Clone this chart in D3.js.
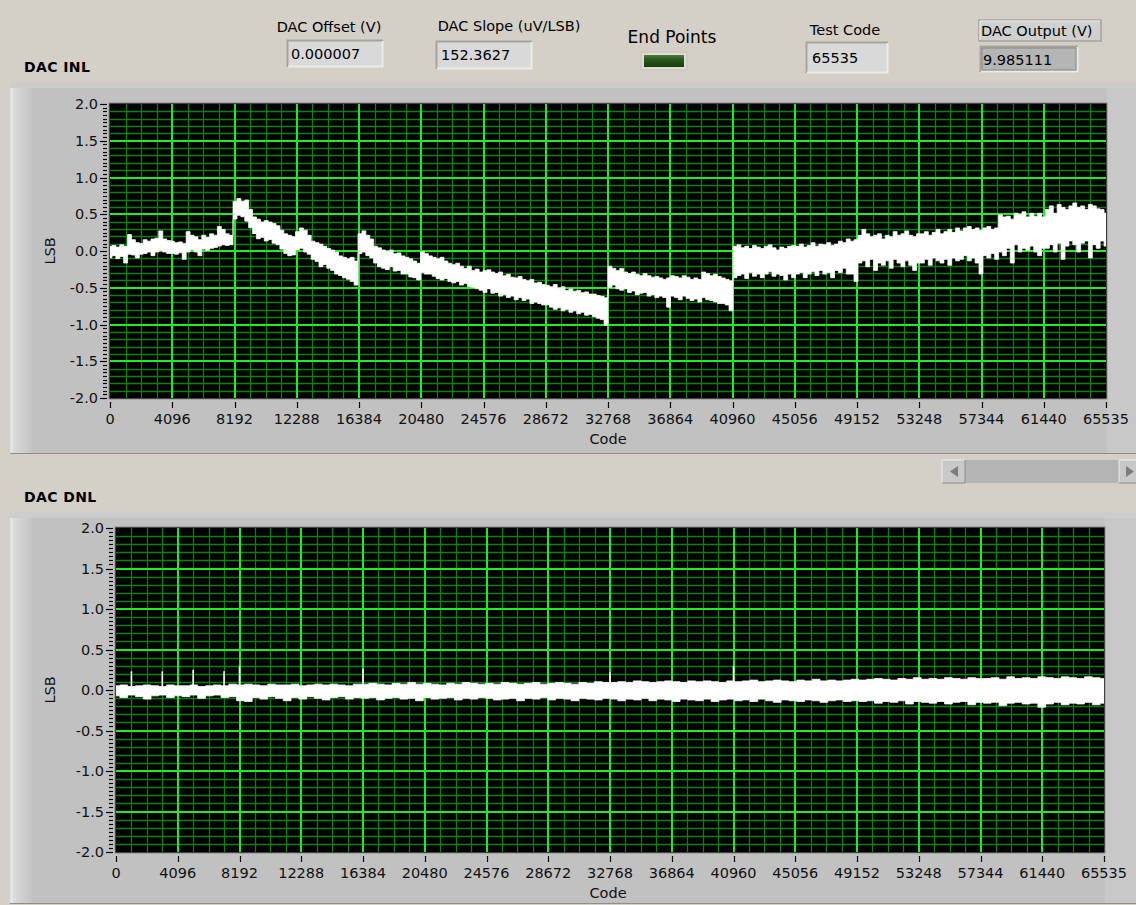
<!DOCTYPE html>
<html><head><meta charset="utf-8">
<script src="https://cdn.jsdelivr.net/npm/d3@7"></script>
<style>html,body{margin:0;padding:0;background:#d4d0c8;overflow:hidden}svg{display:block;font-family:"DejaVu Sans",sans-serif}</style>
</head><body><svg id="c" width="1136" height="905"></svg>
<script>
// ---------- data ----------
const codeTicks = [0,4096,8192,12288,16384,20480,24576,28672,32768,36864,40960,45056,49152,53248,57344,61440,65535];
const lsbTicks = [-2.0,-1.5,-1.0,-0.5,0.0,0.5,1.0,1.5,2.0];
const headerLabels = ["DAC Offset (V)","DAC Slope (uV/LSB)","Test Code","DAC Output (V)"];
const headerValues = ["0.000007","152.3627","65535","9.985111"];

// INL envelope, 256 bins over the code range (upper / lower edge of the noisy trace, LSB)
const inlHi = [
 0.05,0.06,0.04,0.07,0.05,0.21,0.14,0.10,0.09,0.14,0.12,0.15,0.16,0.26,0.15,0.13,
 0.12,0.10,0.11,0.09,0.25,0.20,0.18,0.14,0.20,0.17,0.22,0.20,0.32,0.28,0.22,0.20,
 0.66,0.70,0.66,0.68,0.55,0.45,0.42,0.38,0.40,0.38,0.36,0.33,0.27,0.22,0.20,0.18,
 0.25,0.30,0.27,0.20,0.12,0.10,0.08,0.05,0.02,0.00,-0.03,-0.08,-0.10,-0.12,-0.10,-0.15,
 0.22,0.26,0.20,0.15,0.05,0.03,0.00,-0.02,0.00,-0.05,-0.04,-0.08,-0.10,-0.12,-0.15,-0.18,
 -0.02,-0.05,-0.08,-0.10,-0.12,-0.10,-0.15,-0.18,-0.20,-0.18,-0.22,-0.25,-0.22,-0.28,-0.26,-0.30,
 -0.28,-0.27,-0.30,-0.32,-0.30,-0.35,-0.33,-0.37,-0.38,-0.36,-0.40,-0.42,-0.40,-0.45,-0.44,-0.47,
 -0.48,-0.50,-0.47,-0.52,-0.50,-0.55,-0.53,-0.56,-0.55,-0.58,-0.57,-0.60,-0.60,-0.62,-0.63,-0.65,
 -0.22,-0.25,-0.28,-0.25,-0.30,-0.32,-0.30,-0.33,-0.35,-0.32,-0.35,-0.37,-0.36,-0.38,-0.40,-0.38,
 -0.35,-0.36,-0.38,-0.35,-0.37,-0.40,-0.38,-0.40,-0.30,-0.32,-0.35,-0.33,-0.36,-0.38,-0.40,-0.42,
 0.05,0.07,0.03,0.05,0.02,0.06,0.04,0.02,0.05,0.07,0.03,0.00,0.04,0.02,0.05,0.06,
 0.05,0.08,0.04,0.06,0.10,0.05,0.08,0.07,0.10,0.06,0.08,0.12,0.10,0.15,0.12,0.14,
 0.20,0.28,0.22,0.18,0.20,0.22,0.15,0.20,0.18,0.25,0.20,0.22,0.26,0.20,0.18,0.22,
 0.22,0.25,0.20,0.24,0.28,0.22,0.25,0.28,0.24,0.30,0.26,0.30,0.32,0.28,0.30,0.27,
 0.30,0.32,0.28,0.30,0.48,0.45,0.46,0.42,0.50,0.48,0.52,0.45,0.50,0.46,0.50,0.45,
 0.55,0.60,0.50,0.62,0.58,0.55,0.60,0.64,0.58,0.60,0.55,0.62,0.60,0.56,0.55,0.50];
const inlLo = [
 -0.08,-0.05,-0.09,-0.06,-0.15,-0.03,-0.04,-0.08,-0.03,-0.02,0.00,-0.05,0.00,0.02,0.00,-0.02,
 -0.02,-0.03,-0.01,-0.10,0.00,0.03,0.00,-0.05,0.04,0.02,0.05,0.06,0.08,0.10,0.09,0.10,
 0.45,0.50,0.48,0.42,0.33,0.25,0.18,0.20,0.15,0.17,0.12,0.10,0.04,-0.02,-0.05,-0.04,
 0.03,0.05,0.00,-0.03,-0.10,-0.13,-0.20,-0.17,-0.22,-0.25,-0.30,-0.32,-0.35,-0.37,-0.40,-0.45,
 -0.02,0.00,-0.05,-0.08,-0.15,-0.20,-0.22,-0.24,-0.20,-0.26,-0.25,-0.30,-0.30,-0.34,-0.35,-0.38,
 -0.28,-0.30,-0.30,-0.33,-0.36,-0.38,-0.36,-0.40,-0.42,-0.40,-0.45,-0.43,-0.47,-0.48,-0.50,-0.52,
 -0.55,-0.50,-0.56,-0.55,-0.60,-0.58,-0.62,-0.60,-0.65,-0.62,-0.66,-0.64,-0.70,-0.68,-0.70,-0.72,
 -0.72,-0.75,-0.78,-0.76,-0.80,-0.78,-0.82,-0.80,-0.84,-0.82,-0.86,-0.85,-0.88,-0.90,-0.92,-1.00,
 -0.48,-0.45,-0.50,-0.52,-0.50,-0.55,-0.53,-0.58,-0.56,-0.55,-0.60,-0.58,-0.62,-0.60,-0.62,-0.75,
 -0.60,-0.62,-0.65,-0.60,-0.63,-0.66,-0.64,-0.68,-0.62,-0.65,-0.66,-0.68,-0.70,-0.70,-0.72,-0.80,
 -0.35,-0.32,-0.30,-0.36,-0.28,-0.33,-0.30,-0.35,-0.30,-0.27,-0.33,-0.30,-0.32,-0.38,-0.30,-0.35,
 -0.30,-0.28,-0.35,-0.30,-0.27,-0.32,-0.25,-0.30,-0.28,-0.35,-0.25,-0.28,-0.22,-0.30,-0.30,-0.40,
 -0.15,-0.12,-0.20,-0.10,-0.25,-0.15,-0.18,-0.12,-0.22,-0.10,-0.15,-0.20,-0.12,-0.18,-0.25,-0.15,
 -0.15,-0.10,-0.18,-0.08,-0.12,-0.15,-0.10,-0.18,-0.08,-0.12,-0.10,-0.05,-0.12,-0.08,-0.15,-0.30,
 -0.05,-0.08,-0.02,-0.10,0.00,-0.05,0.05,-0.15,0.10,0.00,0.05,0.02,0.08,0.00,-0.05,0.05,
 0.05,0.10,0.00,0.12,-0.10,0.08,0.15,0.10,0.00,0.12,0.15,-0.08,0.10,0.05,0.15,0.08];

// DNL envelope, 128 bins
const dnlHi = [
 0.04,0.05,0.03,0.04,0.05,0.04,0.03,0.05,0.04,0.04,0.05,0.03,0.04,0.05,0.04,0.06,
 0.05,0.06,0.05,0.04,0.06,0.05,0.05,0.06,0.04,0.05,0.06,0.05,0.06,0.05,0.04,0.06,
 0.06,0.07,0.06,0.05,0.07,0.06,0.08,0.06,0.07,0.06,0.05,0.07,0.06,0.08,0.07,0.06,
 0.07,0.06,0.08,0.07,0.06,0.07,0.08,0.06,0.07,0.08,0.07,0.06,0.08,0.07,0.09,0.08,
 0.08,0.09,0.08,0.10,0.09,0.08,0.09,0.10,0.09,0.08,0.10,0.09,0.10,0.09,0.08,0.10,
 0.09,0.10,0.11,0.09,0.10,0.11,0.10,0.09,0.11,0.10,0.12,0.10,0.11,0.10,0.11,0.12,
 0.11,0.12,0.13,0.12,0.11,0.13,0.12,0.14,0.12,0.13,0.12,0.14,0.13,0.12,0.14,0.13,
 0.13,0.14,0.12,0.15,0.13,0.14,0.13,0.15,0.14,0.13,0.15,0.14,0.13,0.15,0.14,0.13];
const dnlLo = [
 -0.06,-0.08,-0.05,-0.07,-0.10,-0.06,-0.05,-0.08,-0.06,-0.07,-0.05,-0.09,-0.06,-0.05,-0.08,-0.07,
 -0.12,-0.13,-0.08,-0.10,-0.07,-0.09,-0.12,-0.08,-0.10,-0.07,-0.09,-0.11,-0.08,-0.07,-0.10,-0.08,
 -0.09,-0.08,-0.11,-0.09,-0.08,-0.10,-0.09,-0.12,-0.08,-0.10,-0.09,-0.08,-0.11,-0.09,-0.10,-0.08,
 -0.09,-0.11,-0.10,-0.09,-0.12,-0.09,-0.10,-0.08,-0.11,-0.09,-0.10,-0.12,-0.09,-0.10,-0.11,-0.09,
 -0.10,-0.12,-0.10,-0.11,-0.09,-0.12,-0.10,-0.11,-0.13,-0.10,-0.11,-0.12,-0.10,-0.13,-0.11,-0.10,
 -0.12,-0.11,-0.13,-0.10,-0.12,-0.14,-0.11,-0.12,-0.13,-0.11,-0.12,-0.14,-0.12,-0.11,-0.13,-0.12,
 -0.13,-0.12,-0.15,-0.13,-0.14,-0.12,-0.16,-0.13,-0.14,-0.15,-0.13,-0.16,-0.14,-0.13,-0.17,-0.14,
 -0.15,-0.14,-0.18,-0.15,-0.14,-0.16,-0.15,-0.20,-0.16,-0.14,-0.17,-0.15,-0.16,-0.14,-0.17,-0.15];
const dnlSpikeCodes = [1024,3072,5120,7168,8192,16384,32768,40960];
const dnlSpikeVals  = [0.23,0.23,0.25,0.23,0.30,0.26,0.22,0.30];

// ---------- drawing ----------
const svg = d3.select("#c");
const FONT = 14.5;
svg.append("rect").attr("width",1136).attr("height",905).attr("fill","#d4d0c8");

const defs = svg.append("defs");
const lg = defs.append("linearGradient").attr("id","leftBevel").attr("x1",0).attr("x2",1);
lg.append("stop").attr("offset",0).attr("stop-color","#dedede");
lg.append("stop").attr("offset",1).attr("stop-color","#c4c4c4");
const led = defs.append("linearGradient").attr("id","led").attr("x1",0).attr("x2",0).attr("y1",0).attr("y2",1);
led.append("stop").attr("offset",0).attr("stop-color","#4f7a3f");
led.append("stop").attr("offset",0.35).attr("stop-color","#2c5a1c");
led.append("stop").attr("offset",1).attr("stop-color","#173d0b");

// ---- header controls ----
function sunkenBox(x,y,w,h,fill){
  const g = svg.append("g");
  g.append("rect").attr("x",x).attr("y",y).attr("width",w).attr("height",h).attr("fill",fill);
  g.append("path").attr("d",`M${x+0.5},${y+h}V${y+0.5}H${x+w}`).attr("stroke","#a8a49c").attr("stroke-width",2).attr("fill","none");
  g.append("path").attr("d",`M${x+w-0.5},${y+1}V${y+h-0.5}H${x+1}`).attr("stroke","#ecebe6").attr("stroke-width",2).attr("fill","none");
  return g;
}
function label(x,y,t,anchor,size,weight){
  return svg.append("text").attr("x",x).attr("y",y).attr("text-anchor",anchor||"start")
    .attr("font-size",size||FONT).attr("font-weight",weight||"normal").attr("fill","#000").text(t);
}
label(329,32,headerLabels[0],"middle");
sunkenBox(287,40,96,27,"#d9d9d9");
label(291,59,headerValues[0]);
label(509,31,headerLabels[1],"middle");
sunkenBox(436,41,96,28,"#d9d9d9");
label(441,60,headerValues[1]);
label(672,43,"End Points","middle",17);
svg.append("rect").attr("x",640).attr("y",51).attr("width",48).attr("height",20).attr("fill","#e0ddd6");
svg.append("rect").attr("x",641).attr("y",52).attr("width",46).attr("height",18).attr("fill","none").attr("stroke","#bdb9b0");
svg.append("rect").attr("x",644).attr("y",55).attr("width",40).attr("height",12).attr("fill","url(#led)");
label(845,35,headerLabels[2],"middle");
sunkenBox(806,42,82,31,"#d9d9d9");
label(812,63,headerValues[2]);
svg.append("rect").attr("x",979).attr("y",20).attr("width",122).attr("height",21).attr("fill","#d0d0d0").attr("stroke","#8c8c8c");
svg.append("path").attr("d","M980,40V21H1100").attr("stroke","#f0f0f0").attr("fill","none");
label(981,36,headerLabels[3]);
sunkenBox(980,46,98,26,"#b5b5b5");
svg.append("rect").attr("x",982).attr("y",48).attr("width",94).attr("height",22).attr("fill","none").attr("stroke","#8a8a8a");
label(983,65,headerValues[3]);

// ---- graph builder ----
function graph(o){
  const g = svg.append("g");
  g.append("rect").attr("x",o.px0).attr("y",o.py0).attr("width",o.px1-o.px0).attr("height",o.py1-o.py0).attr("fill","#c1c1c1");
  g.append("rect").attr("x",o.px0).attr("y",o.py0).attr("width",22).attr("height",o.py1-o.py0).attr("fill","url(#leftBevel)");
  g.append("rect").attr("x",o.px0).attr("y",o.py0).attr("width",3).attr("height",o.py1-o.py0).attr("fill","#e4e4e4");
  g.append("rect").attr("x",o.px0).attr("y",o.py0).attr("width",o.px1-o.px0).attr("height",6).attr("fill","#cdcdcd");
  g.append("rect").attr("x",o.xr[1]+1).attr("y",o.py0+6).attr("width",o.px1-o.xr[1]-1).attr("height",o.py1-o.py0-6).attr("fill","#c8c8c8");
  g.append("line").attr("x1",o.px0).attr("x2",o.px1).attr("y1",o.py1-0.5).attr("y2",o.py1-0.5).attr("stroke","#8e8e8e");

  const x = d3.scaleLinear().domain([0,65535]).range(o.xr);
  const y = d3.scaleLinear().domain([-2,2]).range(o.yr);
  const [X0,X1] = o.xr, [Y1,Y0] = [o.yr[0],o.yr[1]];

  g.append("rect").attr("x",X0-1).attr("y",Y0-1).attr("width",X1-X0+2).attr("height",Y1-Y0+2).attr("fill","#000").attr("stroke","#8a8a8a");
  const clipId = "clip"+o.id;
  defs.append("clipPath").attr("id",clipId).append("rect").attr("x",X0).attr("y",Y0).attr("width",X1-X0).attr("height",Y1-Y0);
  const pl = g.append("g").attr("clip-path",`url(#${clipId})`);

  const minorX = d3.range(1024,65535,1024).filter(v=>v%4096!==0);
  const minorY = d3.range(-19,20).map(v=>v/10).filter(v=>Math.abs(v*2-Math.round(v*2))>1e-6);
  pl.selectAll(".mx").data(minorX).join("line").attr("x1",d=>Math.round(x(d))+0.5).attr("x2",d=>Math.round(x(d))+0.5)
    .attr("y1",Y0).attr("y2",Y1).attr("stroke","#0a820a").attr("stroke-width",1.3);
  pl.selectAll(".my").data(minorY).join("line").attr("y1",d=>Math.round(y(d))+0.5).attr("y2",d=>Math.round(y(d))+0.5)
    .attr("x1",X0).attr("x2",X1).attr("stroke","#0a820a").attr("stroke-width",1.3);
  pl.selectAll(".Mx").data(codeTicks.slice(1,-1)).join("line").attr("x1",d=>Math.round(x(d))).attr("x2",d=>Math.round(x(d)))
    .attr("y1",Y0).attr("y2",Y1).attr("stroke","#1cf01c").attr("stroke-width",2);
  pl.selectAll(".My").data(lsbTicks.slice(1,-1)).join("line").attr("y1",d=>Math.round(y(d))).attr("y2",d=>Math.round(y(d)))
    .attr("x1",X0).attr("x2",X1).attr("stroke","#1cf01c").attr("stroke-width",2);

  // trace (envelope of the dense code-by-code trace)
  const n = o.hi.length;
  const pts = o.hi.map((h,i)=>({c:i*65535/(n-1),hi:h,lo:o.lo[i]}));
  pl.append("path").datum(pts)
    .attr("d",d3.area().curve(d3.curveStep).x(d=>x(d.c)).y0(d=>y(d.lo)+1).y1(d=>y(d.hi)-1))
    .attr("fill","#fff").attr("stroke","#fff").attr("stroke-width",0.8);
  if(o.spC){
    pl.selectAll(".sp").data(o.spC).join("line").attr("x1",d=>x(d)).attr("x2",d=>x(d))
      .attr("y1",y(0)).attr("y2",(d,i)=>y(o.spV[i])).attr("stroke","#fff").attr("stroke-width",1.6);
  }

  const yTickMinor = d3.range(-40,41).map(v=>v/20).filter(v=>Math.abs(v*2-Math.round(v*2))>1e-6);
  g.selectAll(".ytm").data(yTickMinor).join("line").attr("x1",X0-7).attr("x2",X0-3)
    .attr("y1",d=>Math.round(y(d))+0.5).attr("y2",d=>Math.round(y(d))+0.5).attr("stroke","#000").attr("stroke-width",1.2);
  g.selectAll(".ytM").data(lsbTicks).join("line").attr("x1",X0-10).attr("x2",X0-3)
    .attr("y1",d=>Math.round(y(d))+0.5).attr("y2",d=>Math.round(y(d))+0.5).attr("stroke","#000").attr("stroke-width",1.2);
  g.selectAll(".ytl").data(lsbTicks).join("text").attr("x",X0-12).attr("y",d=>y(d)+5).attr("text-anchor","end")
    .attr("font-size",FONT).attr("fill","#111").text(d=>d.toFixed(1));
  g.append("text").attr("transform",`translate(${o.lsbX},${(Y0+Y1)/2}) rotate(-90)`).attr("text-anchor","middle")
    .attr("font-size",FONT).attr("fill","#111").text("LSB");

  g.selectAll(".xt").data(codeTicks).join("line").attr("x1",d=>Math.round(x(d))+0.5).attr("x2",d=>Math.round(x(d))+0.5)
    .attr("y1",Y1+4).attr("y2",Y1+10).attr("stroke","#000").attr("stroke-width",1.2);
  g.selectAll(".xl").data(codeTicks).join("text").attr("x",d=>x(d)).attr("y",Y1+26).attr("text-anchor","middle")
    .attr("font-size",FONT).attr("fill","#111").text(d=>d);
  g.append("text").attr("x",608).attr("y",Y1+46).attr("text-anchor","middle").attr("font-size",FONT).attr("fill","#111").text("Code");

  svg.append("text").attr("x",o.tx).attr("y",o.ty).attr("font-size",14).attr("font-weight","bold").attr("letter-spacing",0.4).attr("fill","#000").text(o.title);
}

graph({id:"inl",title:"DAC INL",tx:24,ty:72,px0:10,px1:1136,py0:82,py1:454,xr:[110,1106],yr:[398,104],hi:inlHi,lo:inlLo,lsbX:55});
graph({id:"dnl",title:"DAC DNL",tx:24,ty:502,px0:10,px1:1136,py0:512,py1:904,xr:[116,1104],yr:[852,528],hi:dnlHi,lo:dnlLo,spC:dnlSpikeCodes,spV:dnlSpikeVals,lsbX:55});

// ---- scrollbar ----
svg.append("rect").attr("x",942).attr("y",460).attr("width",194).attr("height",23).attr("fill","#b4b4b4");
function btn(x){
  svg.append("rect").attr("x",x).attr("y",460).attr("width",23).attr("height",23).attr("fill","#c9c9c9");
  svg.append("path").attr("d",`M${x},483V460H${x+23}`).attr("stroke","#ececec").attr("fill","none");
  svg.append("path").attr("d",`M${x+23},460V483H${x}`).attr("stroke","#8a8a8a").attr("fill","none");
}
btn(942); btn(1119);
svg.append("path").attr("d","M950,471.5L958,466V477Z").attr("fill","#7c7c7c");
svg.append("path").attr("d","M1134,471.5L1126,466V477Z").attr("fill","#7c7c7c");
</script></body></html>
